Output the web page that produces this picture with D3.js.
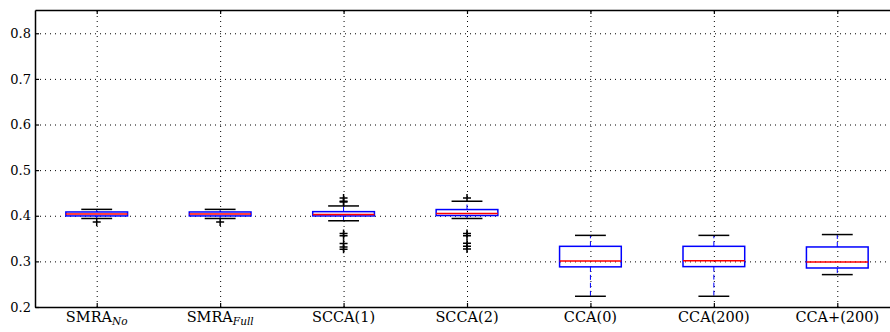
<!DOCTYPE html>
<html lang="en">
<head>
<meta charset="UTF-8">
<title>Boxplot</title>
<script src="https://cdn.jsdelivr.net/npm/d3@7"></script>
<style>
    * { box-sizing: border-box; padding: 0; margin: 0; border: 0; }
    body { background: #fff; }
    svg { display: block; }
    svg text { font-family: 'DejaVu Serif', serif; }
</style>
</head>
<body>
<svg width="890" height="332"></svg>
<script>
    // data
    var categories = ["SMRA_No", "SMRA_Full", "SCCA(1)", "SCCA(2)", "CCA(0)", "CCA(200)", "CCA+(200)"];
    var q1 = [0.3996, 0.3996, 0.3996, 0.4005, 0.2880, 0.2885, 0.2855];
    var medians = [0.4040, 0.4040, 0.4026, 0.4050, 0.3010, 0.3015, 0.2985];
    var q3 = [0.4083, 0.4083, 0.4090, 0.4136, 0.3330, 0.3330, 0.3316];
    var whiskLow = [0.3940, 0.3940, 0.3890, 0.3940, 0.2235, 0.2235, 0.2710];
    var whiskHigh = [0.4140, 0.4140, 0.4215, 0.4318, 0.3570, 0.3570, 0.3588];
    var fliers = [
        [0.3865],
        [0.3865],
        [0.4390, 0.4320, 0.4300, 0.3610, 0.3560, 0.3390, 0.3316, 0.3265],
        [0.4390, 0.3610, 0.3560, 0.3400, 0.3330, 0.3270],
        [],
        [],
        []
    ];
    var yTicks = [0.2, 0.3, 0.4, 0.5, 0.6, 0.7, 0.8];

    var fontFam = "'DejaVu Serif', serif";
    var marge = { top: 10, left: 35, right: -9, bottom: 25 };
    var svg = d3.select("svg");
    var width = 890 - marge.left - marge.right;
    var height = 332 - marge.top - marge.bottom;

    var g = svg.append("g")
        .attr("transform", "translate(" + marge.left + "," + marge.top + ")");

    var x = d3.scaleLinear().domain([0.5, categories.length + 0.5]).range([0, width]);
    var y = d3.scaleLinear().domain([0.2, 0.851]).range([height, 0]);
    var idx = d3.range(categories.length);
    var tickPos = idx.map(function (i) { return i + 1; });

    // grid
    g.append("g")
        .call(d3.axisLeft(y).tickValues(yTicks).tickSize(-width).tickFormat(""))
        .call(function (s) { s.select(".domain").remove(); })
        .selectAll("line").attr("stroke", "#000").attr("stroke-dasharray", "1,4");
    g.append("g")
        .attr("transform", "translate(0," + height + ")")
        .call(d3.axisBottom(x).tickValues(tickPos).tickSize(-height).tickFormat(""))
        .call(function (s) { s.select(".domain").remove(); })
        .selectAll("line").attr("stroke", "#000").attr("stroke-dasharray", "1,4");

    var boxW = x(1.25) - x(1);
    var capW = x(1.125) - x(1);

    var box = g.selectAll(".box").data(idx).enter().append("g").attr("class", "box");

    // whiskers
    box.append("line")
        .attr("x1", function (i) { return x(i + 1); }).attr("x2", function (i) { return x(i + 1); })
        .attr("y1", function (i) { return y(q3[i]); }).attr("y2", function (i) { return y(whiskHigh[i]); })
        .attr("stroke", "#0000ff").attr("stroke-width", 1).attr("stroke-dasharray", "5,3");
    box.append("line")
        .attr("x1", function (i) { return x(i + 1); }).attr("x2", function (i) { return x(i + 1); })
        .attr("y1", function (i) { return y(q1[i]); }).attr("y2", function (i) { return y(whiskLow[i]); })
        .attr("stroke", "#0000ff").attr("stroke-width", 1).attr("stroke-dasharray", "5,3");

    // caps
    [whiskHigh, whiskLow].forEach(function (arr) {
        box.append("line")
            .attr("x1", function (i) { return x(i + 1) - capW; }).attr("x2", function (i) { return x(i + 1) + capW; })
            .attr("y1", function (i) { return y(arr[i]); }).attr("y2", function (i) { return y(arr[i]); })
            .attr("stroke", "#000").attr("stroke-width", 1.5);
    });

    // boxes
    box.append("rect")
        .attr("x", function (i) { return x(i + 1) - boxW; })
        .attr("width", 2 * boxW)
        .attr("y", function (i) { return y(q3[i]); })
        .attr("height", function (i) { return y(q1[i]) - y(q3[i]); })
        .attr("fill", "none").attr("stroke", "#0000ff").attr("stroke-width", 1.5);

    // medians
    box.append("line")
        .attr("x1", function (i) { return x(i + 1) - boxW; }).attr("x2", function (i) { return x(i + 1) + boxW; })
        .attr("y1", function (i) { return y(medians[i]); }).attr("y2", function (i) { return y(medians[i]); })
        .attr("stroke", "#ff0000").attr("stroke-width", 1.5);

    // fliers
    box.each(function (i) {
        d3.select(this).selectAll(".flier").data(fliers[i]).enter().append("path")
            .attr("class", "flier")
            .attr("transform", function (v) { return "translate(" + x(i + 1) + "," + y(v) + ")"; })
            .attr("d", "M-4,0H4M0,-4V4")
            .attr("stroke", "#000").attr("stroke-width", 1.5);
    });

    // axes with inward ticks
    var yAxis = g.append("g")
        .call(d3.axisLeft(y).tickValues(yTicks).tickSizeInner(-4).tickSizeOuter(0).tickPadding(4).tickFormat(d3.format(".1f")));
    var yAxisR = g.append("g").attr("transform", "translate(" + width + ",0)")
        .call(d3.axisRight(y).tickValues(yTicks).tickSizeInner(-4).tickSizeOuter(0).tickFormat(""));
    var xAxis = g.append("g").attr("transform", "translate(0," + height + ")")
        .call(d3.axisBottom(x).tickValues(tickPos).tickSizeInner(-4).tickSizeOuter(0).tickFormat(""));
    var xAxisT = g.append("g")
        .call(d3.axisTop(x).tickValues(tickPos).tickSizeInner(-4).tickSizeOuter(0).tickFormat(""));

    [yAxis, yAxisR, xAxis, xAxisT].forEach(function (a) {
        a.attr("font-family", fontFam);
        a.select(".domain").attr("stroke", "#000").attr("stroke-width", 1.5);
        a.selectAll(".tick line").attr("stroke", "#000").attr("stroke-width", 1.2);
    });
    yAxis.selectAll("text").attr("font-size", 13).attr("fill", "#000");

    // category labels with subscripts
    var labels = g.append("g").selectAll("text").data(idx).enter().append("text")
        .attr("x", function (i) { return x(i + 1); })
        .attr("y", height + 15)
        .attr("text-anchor", "middle")
        .attr("font-size", 14.5)
        .attr("fill", "#000");
    labels.each(function (i) {
        var parts = categories[i].split("_");
        var t = d3.select(this);
        t.append("tspan").text(parts[0]);
        if (parts[1]) {
            t.append("tspan").text(parts[1])
                .attr("font-style", "italic").attr("font-size", 10.5).attr("dy", 3);
        }
    });
</script>
</body>
</html>
